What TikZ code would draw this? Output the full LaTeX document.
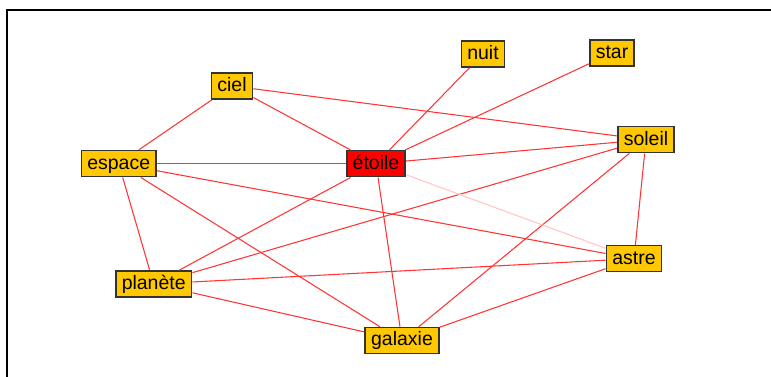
\documentclass[tikz,border=0pt]{standalone}
\usepackage{fontspec}
\setmainfont{Liberation Sans}
\usetikzlibrary{positioning}
\definecolor{termgold}{HTML}{FFC800}
\definecolor{termred}{HTML}{FF0000}
\definecolor{boxedge}{HTML}{333333}
\definecolor{linkred}{HTML}{FF3535}
\definecolor{linkpale}{HTML}{FFC6C6}

\begin{document}
\begin{tikzpicture}[
  x=0.75pt, y=-0.75pt,
  font=\fontsize{14.6}{16}\selectfont,
  term/.style={draw=boxedge, line width=1.2pt, fill=termgold,
    inner xsep=4.5pt, inner ysep=0pt, minimum height=19.5pt,
    text height=0.95em, text depth=0.13em},
  focus/.style={term, fill=termred},
  link/.style={draw=linkred, line width=0.8pt},
  weaklink/.style={draw=linkpale, line width=0.8pt},
  frameline/.style={line width=1.5pt}
]

\useasboundingbox (0,0) rectangle (771,377);
\draw[frameline] (7,377) -- (7,10) -- (771,10);

% word nodes
\node[term]  (ciel)    at (232,86)    {ciel};
\node[term]  (espace)  at (118.7,163.7) {espace};
\node[focus] (etoile)  at (376,163.7) {étoile};
\node[term]  (nuit)    at (483,54)    {nuit};
\node[term]  (star)    at (612,53)    {star};
\node[term]  (soleil)  at (646,139.7) {soleil};
\node[term]  (planete) at (153.7,284) {planète};
\node[term]  (galaxie) at (402,340.5) {galaxie};
\node[term]  (astre)   at (634,258.7) {astre};

% co-occurrence links
\foreach \a/\b in {ciel/espace,ciel/etoile,ciel/soleil,nuit/etoile,star/etoile,
    espace/etoile,etoile/soleil,espace/astre,espace/planete,espace/galaxie,
    etoile/planete,etoile/galaxie,soleil/planete,soleil/galaxie,soleil/astre,
    planete/astre,planete/galaxie,astre/galaxie}
  \draw[link] (\a) -- (\b);
\draw[weaklink] (etoile) -- (astre);

\end{tikzpicture}
\end{document}
